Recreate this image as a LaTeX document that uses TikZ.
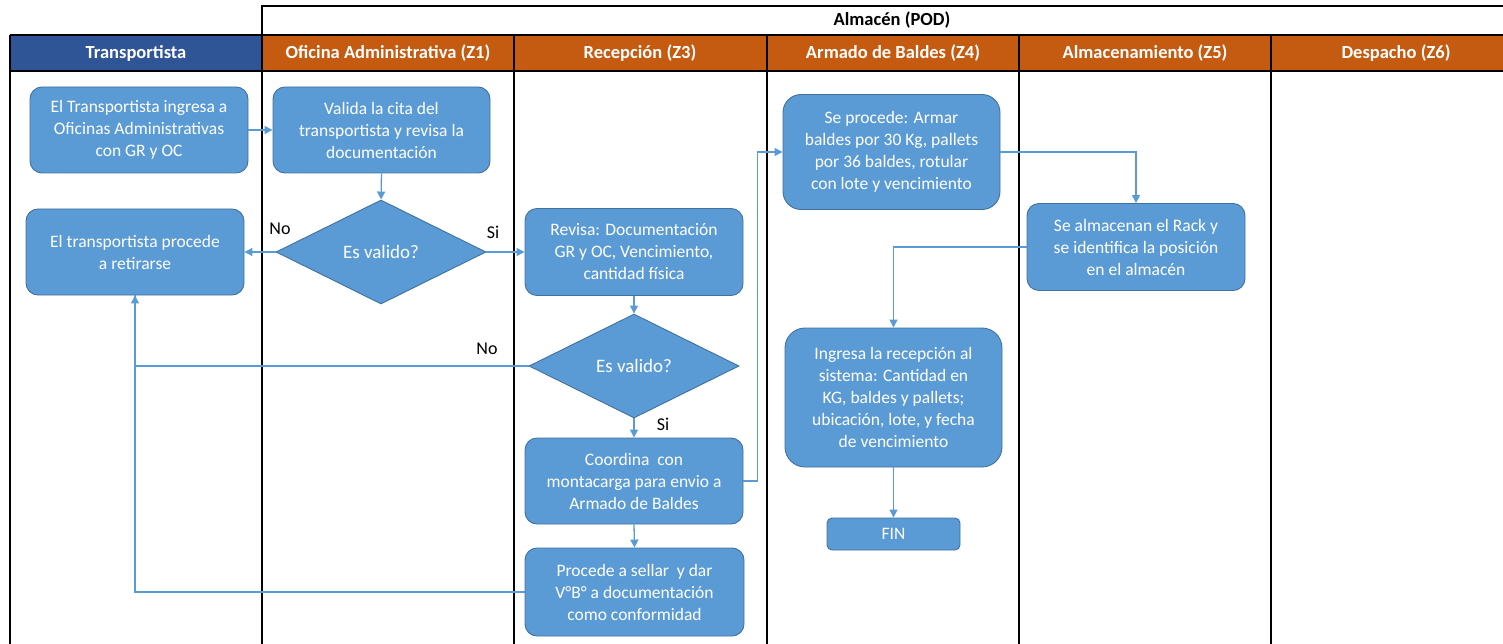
\documentclass[tikz,border=0pt]{standalone}
\usepackage{fontspec}
\setmainfont{Carlito}
\usetikzlibrary{shapes.geometric,arrows.meta}
\definecolor{boxfill}{HTML}{5B9BD5}
\definecolor{boxline}{HTML}{41719C}
\definecolor{hdrblue}{HTML}{2F5597}
\definecolor{hdrorange}{HTML}{C55A11}
\tikzset{
  lane/.style={line width=2pt,black},
  hdrtext/.style={text=white,font=\fontsize{18.5}{22}\selectfont\bfseries},
  proc/.style={draw=boxline,line width=0.9pt,fill=boxfill,rounded corners=12pt,
    text=white,align=center,inner sep=0pt,
    font=\fontsize{17.5}{22}\selectfont},
  dec/.style={diamond,draw=boxline,line width=0.9pt,fill=boxfill,text=white,
    inner sep=0pt,minimum width=210pt,minimum height=104pt,
    font=\fontsize{19}{22}\selectfont},
  arr/.style={draw=boxfill,line width=1.3pt,-{Triangle[length=8pt,width=8pt]}},
  link/.style={draw=boxfill,line width=1.3pt},
  lbl/.style={text=black,font=\fontsize{18}{22}\selectfont,inner sep=0pt}
}
\begin{document}
\begin{tikzpicture}[x=1pt,y=-1pt]
\useasboundingbox (0,0) rectangle (1503,644);
% header bands
\fill[hdrblue] (10,35) rectangle (262,71);
\fill[hdrorange] (262,35) rectangle (1503,71);
% warehouse title frame
\draw[lane] (262,644) -- (262,6) -- (1505,6);
\draw[lane] (10,35) -- (1505,35);
\draw[lane] (10,71) -- (1505,71);
\foreach \x in {10,514,767,1019,1271} \draw[lane] (\x,35) -- (\x,644);
\node[font=\fontsize{18.5}{22}\selectfont\bfseries] (pod) at (892,20) {Almacén (POD)};
% lane titles
\node[hdrtext] (h0) at (136,53) {Transportista};
\node[hdrtext] (h1) at (388,53) {Oficina Administrativa (Z1)};
\node[hdrtext] (h2) at (640,53) {Recepción (Z3)};
\node[hdrtext] (h3) at (893,53) {Armado de Baldes (Z4)};
\node[hdrtext] (h4) at (1145,53) {Almacenamiento (Z5)};
\node[hdrtext] (h5) at (1396,53) {Despacho (Z6)};
% process steps
\node[proc,minimum width=218pt,minimum height=86pt] (n1) at (139,130)
  {El Transportista ingresa a\\Oficinas Administrativas\\con GR y OC};
\node[proc,minimum width=217pt,minimum height=86pt] (n2) at (381.5,130)
  {Valida la cita del\\transportista y revisa la\\documentación};
\node[dec] (d1) at (381,252) {Es valido?};
\node[proc,minimum width=218pt,minimum height=86pt] (n3) at (135,252)
  {El transportista procede\\a retirarse};
\node[proc,minimum width=218pt,minimum height=87pt] (n4) at (634,252)
  {Revisa: Documentación\\GR y OC, Vencimiento,\\cantidad física};
\node[dec] (d2) at (634,366) {Es valido?};
\node[proc,minimum width=218pt,minimum height=86pt] (n5) at (634,481)
  {Coordina\ \ con\\montacarga para envio a\\Armado de Baldes};
\node[proc,minimum width=219pt,minimum height=88pt] (n6) at (634.5,592)
  {Procede a sellar\ \ y dar\\V°B° a documentación\\como conformidad};
\node[proc,rounded corners=18pt,minimum width=217pt,minimum height=115pt] (n7) at (891.5,152)
  {Se procede: Armar\\baldes por 30 Kg, pallets\\por 36 baldes, rotular\\con lote y vencimiento};
\node[proc,minimum width=218pt,minimum height=87pt] (n8) at (1136,247)
  {Se almacenan el Rack y\\se identifica la posición\\en el almacén};
\node[proc,rounded corners=20pt,minimum width=217pt,minimum height=139pt] (n9) at (893.5,397.5)
  {Ingresa la recepción al\\sistema: Cantidad en\\KG, baldes y pallets;\\ubicación, lote, y fecha\\de vencimiento};
\node[proc,rounded corners=5pt,minimum width=133pt,minimum height=32pt] (n10) at (893.5,534) {FIN};
% connectors
\draw[arr] (n1.east) -- (n2.west);
\draw[arr] (n2.south) -- (d1.north);
\draw[arr] (d1.west) -- (n3.east);
\draw[arr] (d1.east) -- (n4.west);
\draw[arr] (n4.south) -- (d2.north);
\draw[arr] (d2.west) -| (n3.south);
\draw[link] (n6.west) -| (n3.south);
\draw[arr] (d2.south) -- (n5.north);
\draw[arr] (n5.south) -- (n6.north);
\draw[arr] (n5.east) -- ++(14,0) |- (n7.west);
\draw[arr] (n7.east) -| (n8.north);
\draw[arr] (n8.west) -| (n9.north);
\draw[arr] (n9.south) -- (n10.north);
% branch labels
\node[lbl] (no1) at (280,229) {No};
\node[lbl] (si1) at (493,232) {Si};
\node[lbl] (no2) at (487,349) {No};
\node[lbl] (si2) at (663,424) {Si};
\end{tikzpicture}
\end{document}
